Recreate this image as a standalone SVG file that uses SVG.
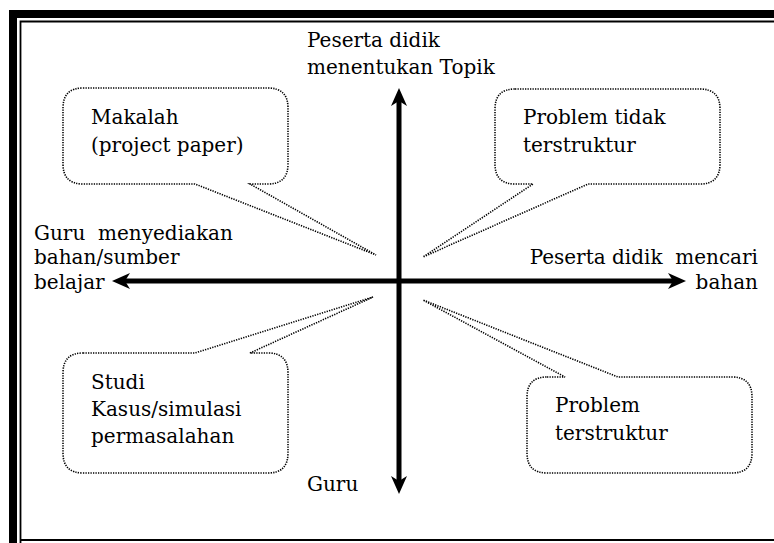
<svg xmlns="http://www.w3.org/2000/svg" width="774" height="543" viewBox="0 0 774 543">
<style>
.t{font-family:"DejaVu Serif","Liberation Serif",serif;font-size:20px;fill:#000}
.b{fill:#fff;stroke:#000;stroke-width:1.6;stroke-dasharray:1.3 1.2}
.ax{stroke:#000;stroke-width:5;fill:none}
</style>
<defs>
<marker id="ah" viewBox="0 0 18 16" refX="8" refY="8" markerWidth="18" markerHeight="16" markerUnits="userSpaceOnUse" orient="auto-start-reverse">
<path d="M0,0 L18,8 L0,16 L5,8 Z" fill="#000"/>
</marker>
</defs>
<rect width="774" height="543" fill="#fff"/>
<g id="frame">
<path d="M13,543 V14 H774" fill="none" stroke="#000" stroke-width="8"/>
<path d="M20.5,543 V21.5 H774 M20.5,540 H774" fill="none" stroke="#000" stroke-width="1.8"/>
</g>
<g id="connectors">
<line class="ax" x1="399" y1="98" x2="399" y2="484" marker-start="url(#ah)" marker-end="url(#ah)"/>
<line class="ax" x1="122" y1="281" x2="676" y2="281" marker-start="url(#ah)" marker-end="url(#ah)"/>
</g>
<g id="node-makalah">
<path class="b" d="M83,88 H268 Q288,88 288,108 V164 Q288,184 268,184 H250 L376,255 L195,184 H83 Q63,184 63,164 V108 Q63,88 83,88 Z"/>
<text class="t" x="91" y="124">Makalah</text>
<text class="t" x="91" y="152">(project paper)</text>
</g>
<g id="node-problem-tidak">
<path class="b" d="M515,89 H700 Q720,89 720,109 V164 Q720,184 700,184 H588 L423,257 L533,184 H515 Q495,184 495,164 V109 Q495,89 515,89 Z"/>
<text class="t" x="523" y="124">Problem tidak</text>
<text class="t" x="523" y="152">terstruktur</text>
</g>
<g id="node-studi">
<path class="b" d="M83,353 H195 L373,297 L250,353 H268 Q288,353 288,373 V453 Q288,473 268,473 H83 Q63,473 63,453 V373 Q63,353 83,353 Z"/>
<text class="t" x="91" y="389">Studi</text>
<text class="t" x="91" y="416">Kasus/simulasi</text>
<text class="t" x="91" y="443">permasalahan</text>
</g>
<g id="node-problem-terstruktur">
<path class="b" d="M547,377 H565 L423,300 L618,377 H732 Q752,377 752,397 V453 Q752,473 732,473 H547 Q527,473 527,453 V397 Q527,377 547,377 Z"/>
<text class="t" x="555" y="412">Problem</text>
<text class="t" x="555" y="440">terstruktur</text>
</g>
<g id="label-top">
<text class="t" x="307" y="47">Peserta didik</text>
<text class="t" x="307" y="74">menentukan Topik</text>
</g>
<g id="label-left">
<text class="t" x="34" y="240" xml:space="preserve">Guru  menyediakan</text>
<text class="t" x="34" y="264">bahan/sumber</text>
<text class="t" x="34" y="289">belajar</text>
</g>
<g id="label-right">
<text class="t" x="758" y="264" text-anchor="end" xml:space="preserve">Peserta didik  mencari</text>
<text class="t" x="758" y="289" text-anchor="end">bahan</text>
</g>
<g id="label-bottom">
<text class="t" x="307" y="491">Guru</text>
</g>
</svg>
